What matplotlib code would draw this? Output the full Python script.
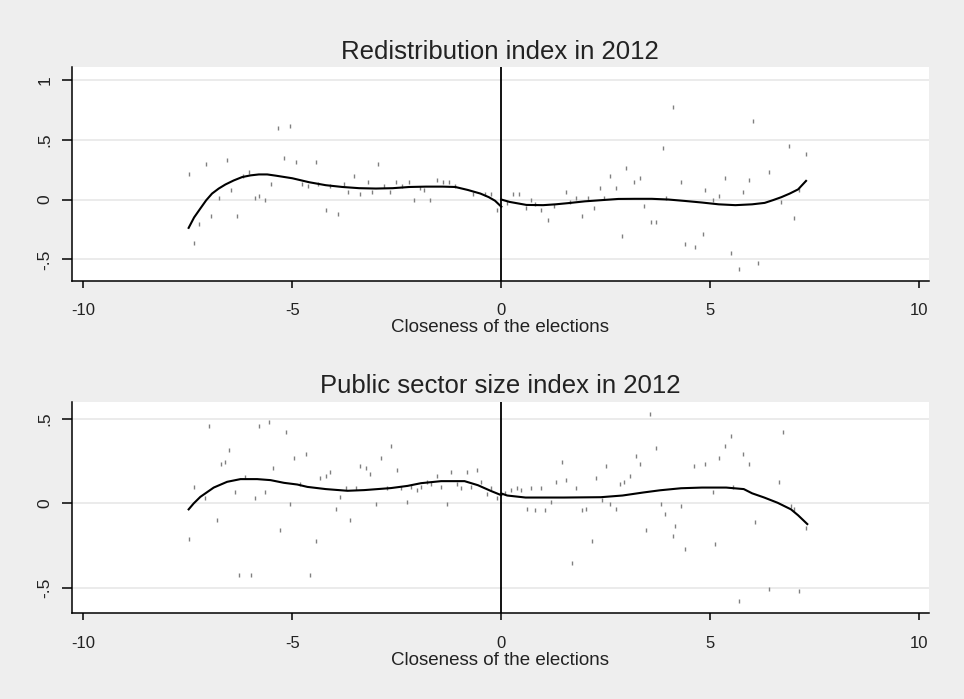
import matplotlib.pyplot as plt

plt.rcParams['font.family'] = ['Liberation Sans', 'DejaVu Sans']

# Redistribution index: binned means and fitted curve on each side of the cutoff
red_x = [-7.48, -7.34, -7.24, -7.06, -6.95, -6.76, -6.57, -6.46, -6.32, -6.18,
         -6.03, -5.89, -5.79, -5.65, -5.50, -5.35, -5.21, -5.06, -4.92, -4.78,
         -4.63, -4.44, -4.39, -4.19, -4.10, -3.90, -3.76, -3.66, -3.52, -3.38,
         -3.18, -3.09, -2.94, -2.80, -2.66, -2.51, -2.37, -2.22, -2.08, -1.94,
         -1.84, -1.70, -1.54, -1.40, -1.26, -1.11, -0.68, -0.39, -0.24, -0.10,
         0.14, 0.29, 0.43, 0.58, 0.72, 0.81, 0.96, 1.11, 1.25, 1.54,
         1.64, 1.78, 1.93, 2.07, 2.21, 2.36, 2.46, 2.60, 2.75, 2.89,
         2.99, 3.18, 3.32, 3.42, 3.57, 3.71, 3.86, 3.95, 4.10, 4.29,
         4.39, 4.63, 4.82, 4.87, 5.06, 5.21, 5.35, 5.50, 5.69, 5.79,
         5.93, 6.03, 6.13, 6.41, 6.70, 6.89, 6.99, 7.13, 7.28]
red_y = [0.212, -0.36, -0.207, 0.30, -0.14, 0.014, 0.332, 0.078, -0.14, 0.196,
         0.232, 0.011, 0.028, -0.006, 0.128, 0.60, 0.349, 0.617, 0.313, 0.128,
         0.112, 0.313, 0.128, -0.089, 0.112, -0.123, 0.128, 0.061, 0.196, 0.045,
         0.145, 0.061, 0.30, 0.112, 0.061, 0.145, 0.112, 0.145, -0.006, 0.095,
         0.078, -0.006, 0.162, 0.145, 0.145, 0.112, 0.045, 0.045, 0.045, -0.089,
         -0.028, 0.045, 0.045, -0.073, -0.006, -0.039, -0.089, -0.173, -0.056, 0.061,
         -0.022, 0.011, -0.14, 0.011, -0.073, 0.095, 0.011, 0.196, 0.095, -0.307,
         0.265, 0.145, 0.179, -0.056, -0.19, -0.19, 0.433, 0.011, 0.771, 0.145,
         -0.374, -0.394, -0.29, 0.078, -0.006, 0.028, 0.179, -0.444, -0.58, 0.061,
         0.162, 0.654, -0.528, 0.229, -0.022, 0.45, -0.156, 0.078, 0.383]
red_fit_lx = [-7.48, -7.35, -7.2, -7.06, -6.92, -6.76, -6.6, -6.4, -6.2, -6.0, -5.8,
              -5.6, -5.4, -5.0, -4.6, -4.2, -3.8, -3.4, -3.0, -2.6, -2.2, -1.8,
              -1.4, -1.1, -0.8, -0.5, -0.3, -0.15, 0.0]
red_fit_ly = [-0.237, -0.15, -0.075, -0.006, 0.05, 0.092, 0.126, 0.16, 0.188, 0.202,
              0.21, 0.21, 0.2, 0.178, 0.145, 0.12, 0.105, 0.095, 0.092, 0.095, 0.105,
              0.108, 0.108, 0.105, 0.08, 0.05, 0.02, -0.01, -0.06]
red_fit_rx = [0.0, 0.2, 0.6, 1.0, 1.3, 1.6, 2.0, 2.4, 2.8, 3.2, 3.6, 4.0, 4.4, 4.8,
              5.2, 5.6, 6.0, 6.3, 6.5, 6.7, 6.9, 7.1, 7.29]
red_fit_ry = [0.0, -0.02, -0.045, -0.047, -0.04, -0.03, -0.015, -0.005, 0.005, 0.006,
              0.006, 0.0, -0.012, -0.025, -0.04, -0.047, -0.04, -0.028, -0.005, 0.02,
              0.05, 0.085, 0.156]

# Public sector size index
pub_x = [-7.48, -7.34, -7.10, -7.00, -6.81, -6.71, -6.62, -6.52, -6.38, -6.27,
         -6.13, -5.98, -5.89, -5.79, -5.65, -5.55, -5.46, -5.30, -5.16, -5.06,
         -4.97, -4.82, -4.68, -4.58, -4.44, -4.34, -4.19, -4.10, -3.95, -3.86,
         -3.71, -3.62, -3.47, -3.38, -3.23, -3.14, -2.99, -2.89, -2.74, -2.65,
         -2.50, -2.41, -2.26, -2.17, -2.02, -1.93, -1.78, -1.69, -1.54, -1.45,
         -1.30, -1.21, -1.06, -0.96, -0.82, -0.72, -0.58, -0.48, -0.34, -0.24,
         -0.10,
         0.10, 0.24, 0.38, 0.48, 0.62, 0.72, 0.81, 0.96, 1.05, 1.20,
         1.30, 1.45, 1.54, 1.69, 1.78, 1.92, 2.02, 2.16, 2.26, 2.40,
         2.50, 2.60, 2.75, 2.84, 2.94, 3.08, 3.23, 3.32, 3.47, 3.56,
         3.71, 3.81, 3.91, 4.10, 4.15, 4.29, 4.39, 4.62, 4.87, 5.06,
         5.11, 5.21, 5.35, 5.50, 5.54, 5.69, 5.79, 5.93, 6.08, 6.41,
         6.65, 6.75, 6.94, 6.99, 7.13, 7.28]
pub_y = [-0.209, 0.10, 0.03, 0.459, -0.10, 0.232, 0.244, 0.315, 0.065, -0.421,
         0.159, -0.421, 0.03, 0.459, 0.065, 0.482, 0.209, -0.159, 0.423, -0.006,
         0.268, 0.114, 0.291, -0.421, -0.22, 0.15, 0.161, 0.185, -0.03, 0.041,
         0.089, -0.10, 0.089, 0.220, 0.209, 0.173, -0.006, 0.268, 0.089, 0.339,
         0.197, 0.089, 0.006, 0.10, 0.077, 0.10, 0.126, 0.114, 0.161, 0.10,
         -0.006, 0.185, 0.114, 0.089, 0.185, 0.10, 0.197, 0.126, 0.053, 0.089,
         0.03,
         0.059, 0.079, 0.089, 0.079, -0.03, 0.089, -0.041, 0.089, -0.041, 0.006,
         0.124, 0.244, 0.138, -0.35, 0.089, -0.041, -0.03, -0.22, 0.15, 0.018,
         0.22, -0.006, -0.03, 0.114, 0.126, 0.161, 0.28, 0.232, -0.159, 0.53,
         0.327, -0.006, -0.065, -0.195, -0.136, -0.018, -0.268, 0.22, 0.232, 0.065,
         -0.242, 0.268, 0.339, 0.398, 0.10, -0.577, 0.291, 0.232, -0.112, -0.506,
         0.126, 0.423, -0.018, -0.03, -0.518, -0.148]
pub_fit_lx = [-7.48, -7.36, -7.2, -6.88, -6.56, -6.24, -5.84, -5.52, -5.2, -4.88,
              -4.64, -4.2, -3.68, -3.28, -2.64, -2.24, -1.92, -1.44, -0.88, -0.56,
              -0.24, 0.0]
pub_fit_ly = [-0.035, 0.0, 0.039, 0.094, 0.128, 0.144, 0.144, 0.138, 0.122, 0.112,
              0.098, 0.085, 0.075, 0.079, 0.091, 0.104, 0.12, 0.132, 0.132, 0.108,
              0.073, 0.049]
pub_fit_rx = [0.0, 0.14, 0.58, 1.5, 2.38, 2.9, 3.4, 3.8, 4.3, 4.8, 5.38, 5.8, 6.0,
              6.29, 6.61, 6.93, 7.1, 7.32]
pub_fit_ry = [0.059, 0.047, 0.035, 0.035, 0.037, 0.047, 0.065, 0.078, 0.09, 0.094,
              0.094, 0.085, 0.06, 0.035, 0.004, -0.035, -0.07, -0.122]

x_ticks = [-10, -5, 0, 5, 10]
x_labels = ['-10', '-5', '0', '5', '10']

panels = [
    dict(title='Redistribution index in 2012', x=red_x, y=red_y,
         lx=red_fit_lx, ly=red_fit_ly, rx=red_fit_rx, ry=red_fit_ry,
         yticks=[-0.5, 0, 0.5, 1], ylabels=['-.5', '0', '.5', '1'],
         ylim=(-0.679, 1.106), rect=[0.0744, 0.5984, 0.8888, 0.3053]),
    dict(title='Public sector size index in 2012', x=pub_x, y=pub_y,
         lx=pub_fit_lx, ly=pub_fit_ly, rx=pub_fit_rx, ry=pub_fit_ry,
         yticks=[-0.5, 0, 0.5], ylabels=['-.5', '0', '.5'],
         ylim=(-0.65, 0.602), rect=[0.0744, 0.1226, 0.8888, 0.3027]),
]

text_color = '#222222'

fig = plt.figure(figsize=(9.64, 6.99), dpi=100, facecolor='#eeeeee')

for p in panels:
    ax = fig.add_axes(p['rect'])
    ax.set_facecolor('white')
    ax.plot(p['x'], p['y'], linestyle='none', marker='|', markersize=3.5,
            markeredgewidth=1.0, color='#808080', zorder=2)
    ax.plot(p['lx'], p['ly'], color='black', lw=1.5, zorder=3)
    ax.plot(p['rx'], p['ry'], color='black', lw=1.5, zorder=3)
    ax.axvline(0, color='black', lw=1.3, zorder=4)

    ax.set_xlim(-10.277, 10.22)
    ax.set_ylim(*p['ylim'])
    ax.set_xticks(x_ticks)
    ax.set_xticklabels(x_labels)
    ax.set_yticks(p['yticks'])
    ax.set_yticklabels(p['ylabels'], rotation=90, va='center')
    ax.yaxis.grid(True, color='#ebebeb', lw=1.4, zorder=0)
    ax.set_axisbelow(True)

    for side in ['top', 'right']:
        ax.spines[side].set_visible(False)
    for side in ['left', 'bottom']:
        ax.spines[side].set_linewidth(1.1)
    ax.tick_params(axis='x', length=5, width=1.1, pad=11, labelsize=12,
                   labelcolor=text_color)
    ax.tick_params(axis='y', length=7, width=1.1, pad=7, labelsize=12.5,
                   labelcolor=text_color)

    ax.set_xlabel('Closeness of the elections', fontsize=13.5, labelpad=1,
                  color=text_color)
    ax.set_title(p['title'], fontsize=18.5, pad=6, color=text_color)

fig.savefig('out.png', dpi=100, facecolor=fig.get_facecolor())
